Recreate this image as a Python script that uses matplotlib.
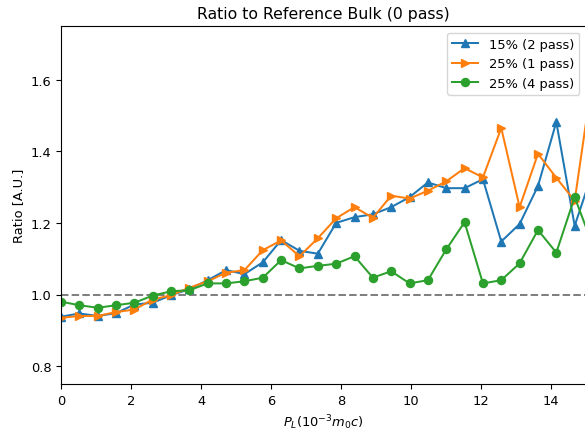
import matplotlib
matplotlib.use("Agg")
import matplotlib.pyplot as plt

x = [0.0, 0.524, 1.048, 1.572, 2.097, 2.621, 3.145, 3.669, 4.193, 4.717,
     5.241, 5.766, 6.290, 6.814, 7.338, 7.862, 8.386, 8.910, 9.434, 9.959,
     10.483, 11.007, 11.531, 12.055, 12.579, 13.103, 13.628, 14.152, 14.676, 15.2]

blue_15_2 = [0.938, 0.947, 0.940, 0.948, 0.972, 0.977, 0.998, 1.015, 1.040, 1.068,
             1.057, 1.090, 1.152, 1.122, 1.114, 1.200, 1.216, 1.224, 1.244, 1.272,
             1.313, 1.297, 1.297, 1.322, 1.148, 1.197, 1.303, 1.482, 1.192, 1.345]

orange_25_1 = [0.935, 0.940, 0.940, 0.951, 0.958, 0.986, 0.998, 1.019, 1.037, 1.061,
               1.068, 1.124, 1.151, 1.107, 1.157, 1.213, 1.244, 1.214, 1.276, 1.268,
               1.290, 1.316, 1.353, 1.327, 1.465, 1.244, 1.393, 1.326, 1.262, 1.615]

green_25_4 = [0.980, 0.970, 0.963, 0.970, 0.977, 0.997, 1.009, 1.012, 1.031, 1.031,
              1.037, 1.047, 1.096, 1.073, 1.080, 1.086, 1.107, 1.047, 1.065, 1.031,
              1.040, 1.126, 1.202, 1.031, 1.040, 1.087, 1.180, 1.117, 1.272, 1.136]

labels = ["15% (2 pass)", "25% (1 pass)", "25% (4 pass)"]

plt.rcParams["font.size"] = 9.4
plt.rcParams["lines.markersize"] = 5.8
plt.rcParams["lines.linewidth"] = 1.45

fig = plt.figure(figsize=(5.85, 4.35), dpi=100)
ax = fig.add_axes([61 / 585, 50 / 435, 525 / 585, 358 / 435])

ax.axhline(1.0, color="gray", linestyle="--")
ax.plot(x, blue_15_2, marker="^", color="tab:blue", label=labels[0])
ax.plot(x, orange_25_1, marker=">", color="tab:orange", label=labels[1])
ax.plot(x, green_25_4, marker="o", color="tab:green", label=labels[2])

ax.set_xlim(0, 15)
ax.set_ylim(0.75, 1.75)
ax.set_title("Ratio to Reference Bulk (0 pass)", fontsize=11.3)
ax.set_xlabel(r"$P_L(10^{-3}m_0c)$")
ax.set_ylabel("Ratio [A.U.]")
ax.legend(loc="upper right")

fig.savefig("out.png", dpi=100)
